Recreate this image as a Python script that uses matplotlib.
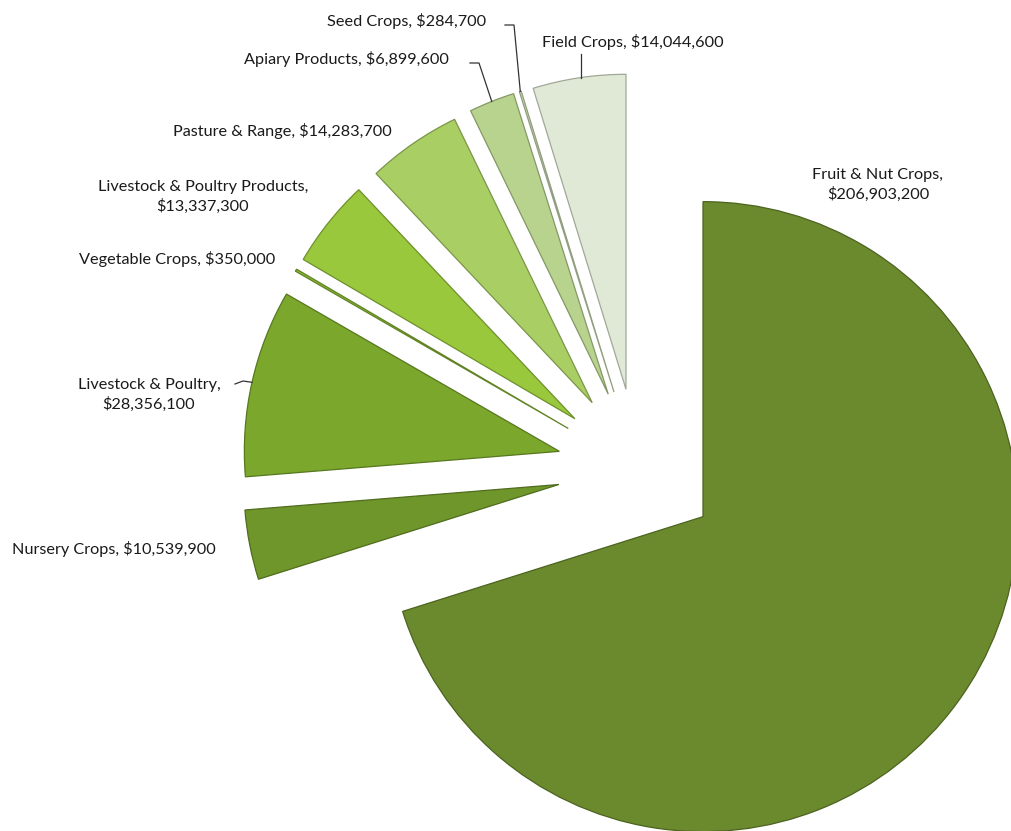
import numpy as np
import matplotlib
matplotlib.use('Agg')
import matplotlib.pyplot as plt
from matplotlib.colors import to_rgb

# --- DATA ---
categories = ['Fruit & Nut Crops', 'Nursery Crops', 'Livestock & Poultry',
              'Vegetable Crops', 'Livestock & Poultry Products', 'Pasture & Range',
              'Apiary Products', 'Seed Crops', 'Field Crops']
values = [206903200, 10539900, 28356100, 350000, 13337300, 14283700,
          6899600, 284700, 14044600]
colors = ['#6a8a2d', '#6f962a', '#7aa72c', '#88b733', '#99c83d', '#a9cf64',
          '#b8d38d', '#cadcb2', '#e0e9d5']

W, H = 1011, 831
# pie placement in pixel units (y measured from top of the image)
CX, CY = 638, 469
R = 315
EXPLODE = 80.6   # pie() offsets wedges in data units

plt.rcParams['font.family'] = ['Lato', 'DejaVu Sans']

fig = plt.figure(figsize=(W / 100, H / 100), dpi=100)
ax = fig.add_axes([0, 0, 1, 1])

def darker(c, f=0.7):
    r, g, b = to_rgb(c)
    return (r * f, g * f, b * f)

wedges, _ = ax.pie(values, colors=colors, startangle=90, counterclock=False,
                   radius=R, center=(CX, H - CY), explode=[EXPLODE] * len(values),
                   frame=True,
                   wedgeprops=dict(linewidth=0.9))
for w, c in zip(wedges, colors):
    w.set_edgecolor(darker(c, 0.72))
ax.set_xlim(0, W)
ax.set_ylim(0, H)
ax.set_aspect('equal')
ax.axis('off')

def money(v):
    return '${:,}'.format(v)

def arc_point(w, frac=0.5, rr=1.0):
    # point on the outer arc of an exploded wedge
    ang = np.deg2rad(w.theta1 + (w.theta2 - w.theta1) * frac)
    cx, cy = w.center
    return cx + w.r * rr * np.cos(ang), cy + w.r * rr * np.sin(ang)

fs = 11.7
tc = '#1a1a1a'
# label text, anchor (pixels from top-left), alignment
labels = [
    (categories[0] + ',\n' + money(values[0]), (878, 185), 'center'),
    (categories[1] + ', ' + money(values[1]), (216, 549), 'right'),
    (categories[2] + ',\n' + money(values[2]), (149, 395), 'center'),
    (categories[3] + ', ' + money(values[3]), (177, 259), 'center'),
    (categories[4] + ',\n' + money(values[4]), (203, 197), 'center'),
    (categories[5] + ', ' + money(values[5]), (282, 131), 'center'),
    (categories[6] + ', ' + money(values[6]), (346, 59), 'center'),
    (categories[7] + ', ' + money(values[7]), (407, 21), 'center'),
    (categories[8] + ', ' + money(values[8]), (633, 42), 'center'),
]
for txt, (x, y), ha in labels:
    ax.text(x, H - y, txt, ha=ha, va='center', fontsize=fs, color=tc,
            linespacing=1.45)

# leader lines
lc = '#333333'
# Livestock & Poultry
px, py = arc_point(wedges[2], 0.5)
ax.plot([235, 243, px], [H - 384, H - 381, py], color=lc, lw=0.9)
# Apiary Products
px, py = arc_point(wedges[6], 0.5)
ax.plot([470, 479, px], [H - 63, H - 63, py], color=lc, lw=0.9)
# Seed Crops
px, py = arc_point(wedges[7], 0.5)
ax.plot([505, 514, px], [H - 25, H - 25, py], color=lc, lw=0.9)
# Field Crops
px, py = arc_point(wedges[8], 0.48)
ax.plot([px, px], [H - 54, py], color=lc, lw=0.9)

fig.savefig('out.png', dpi=100, facecolor='white')
